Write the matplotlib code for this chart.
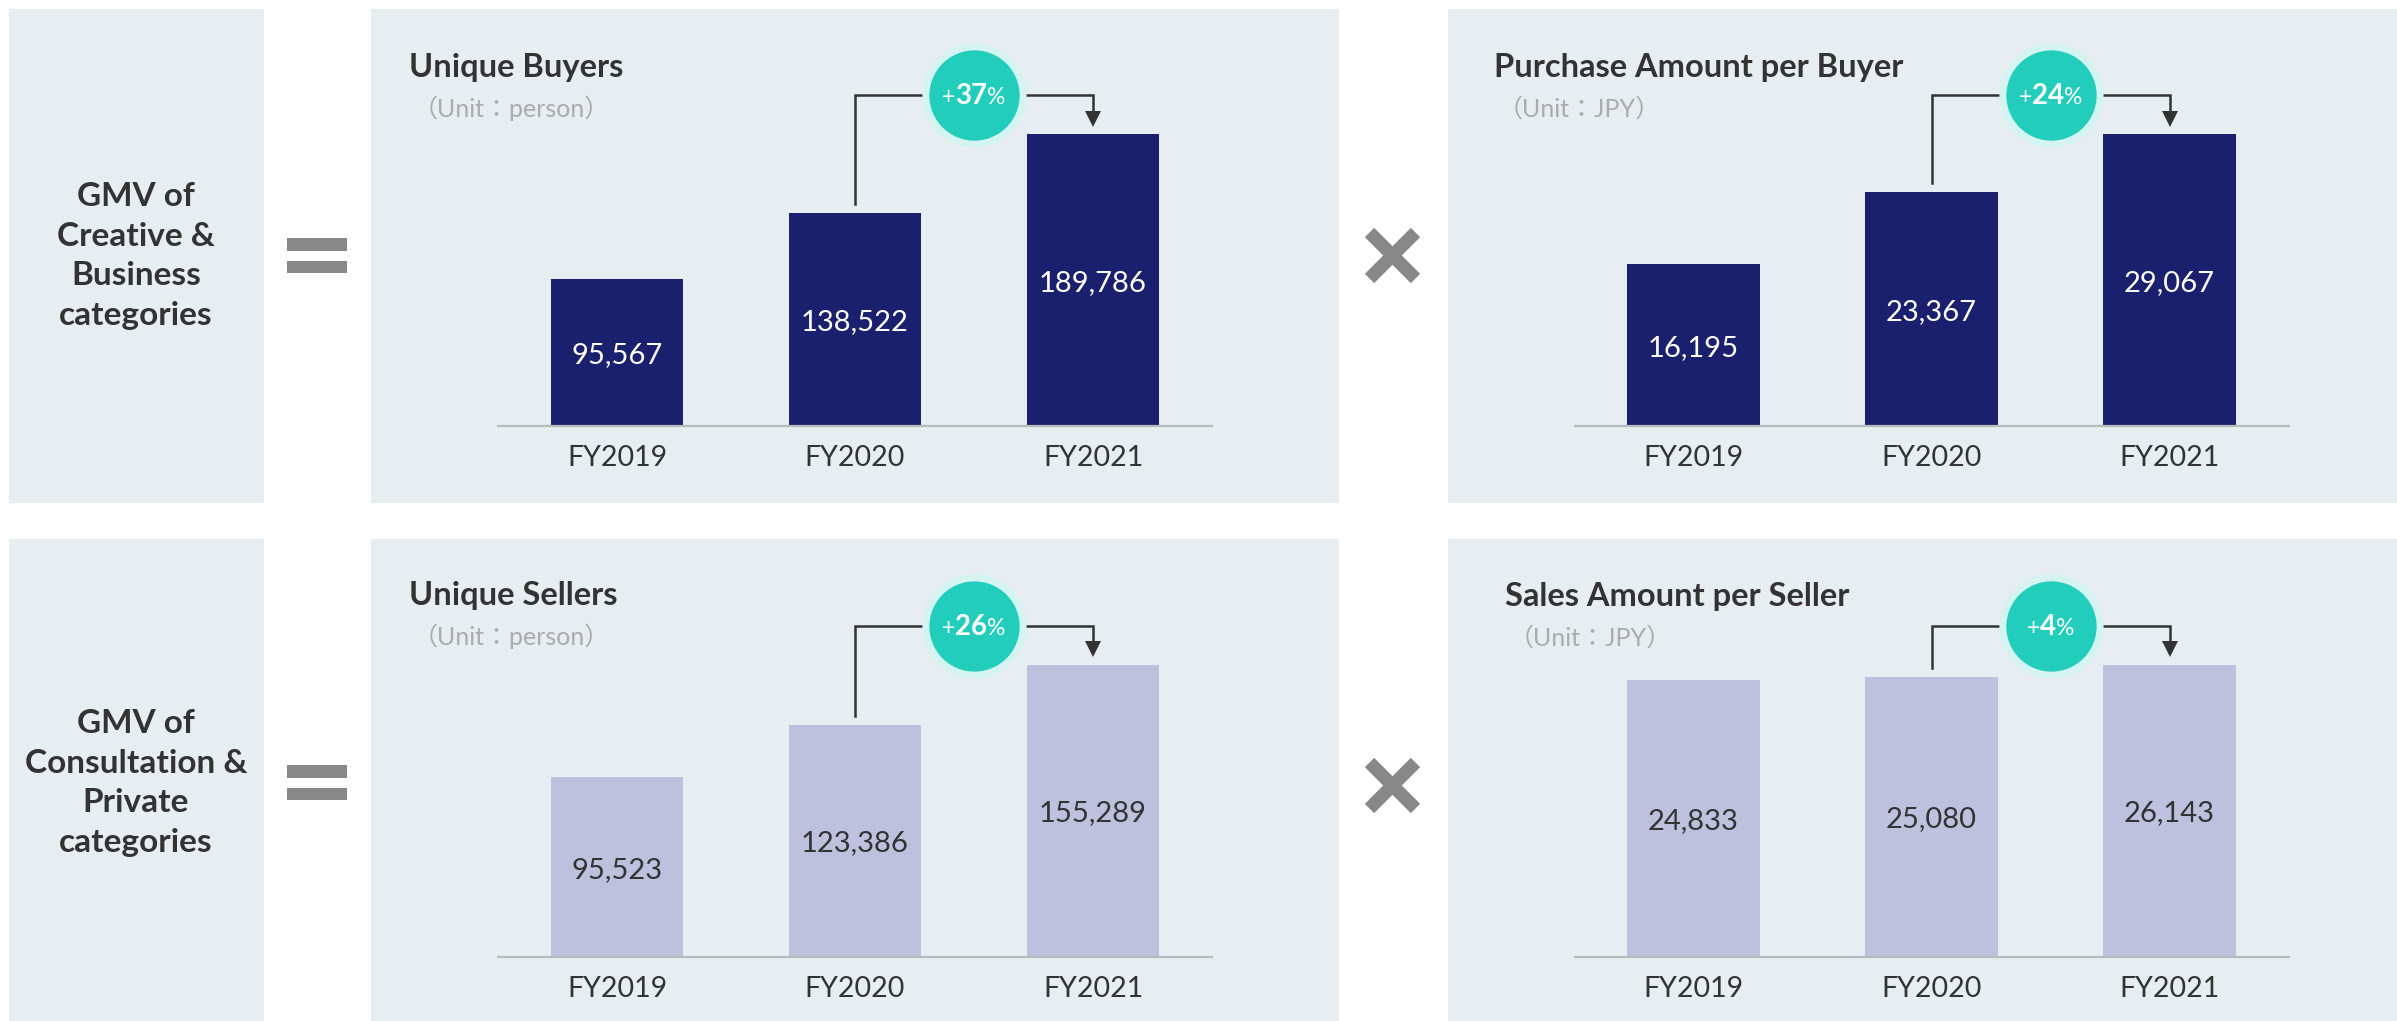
import matplotlib
matplotlib.use('Agg')
import matplotlib.pyplot as plt
import matplotlib.transforms as mtransforms
from matplotlib.patches import Rectangle
from matplotlib.lines import Line2D

W, H = 2397, 1021
DPI = 100

# data
years = ['FY2019', 'FY2020', 'FY2021']
unique_buyers = [95567, 138522, 189786]
purchase_per_buyer = [16195, 23367, 29067]
unique_sellers = [95523, 123386, 155289]
sales_per_seller = [24833, 25080, 26143]

row_labels = ['GMV of\nCreative &\nBusiness\ncategories',
              'GMV of\nConsultation &\nPrivate\ncategories']

# colours
PANEL = '#E6EEF2'
NAVY = '#1B206E'
LAVENDER = '#BDC1DE'
TEAL = '#22CDBB'
RING = '#D3F4F0'
DARK = '#333333'
SIGN = '#888888'
UNIT = '#ABABAB'
AXIS = '#BBBBBB'

plt.rcParams['font.family'] = ['Lato', 'Noto Sans CJK JP', 'DejaVu Sans']

fig = plt.figure(figsize=(W / DPI, H / DPI), dpi=DPI, facecolor='white')

# background layer in pixel units (y down)
bg = fig.add_axes([0, 0, 1, 1])
bg.set_xlim(0, W)
bg.set_ylim(H, 0)
bg.axis('off')


def panel(x0, y0, x1, y1):
    bg.add_patch(Rectangle((x0, y0), x1 - x0, y1 - y0, color=PANEL, lw=0))


for y0, y1 in [(9, 503), (539, H)]:
    panel(9, y0, 264, y1)
    panel(371, y0, 1339, y1)
    panel(1448, y0, W, y1)

# row labels and "=" signs
for label, ty, eq_y in zip(row_labels, [256, 783], [238, 765]):
    bg.text(136, ty, label, ha='center', va='center', fontsize=24,
            fontweight='bold', color=DARK, linespacing=1.45)
    bg.add_patch(Rectangle((287, eq_y), 60, 12.5, color=SIGN, lw=0))
    bg.add_patch(Rectangle((287, eq_y + 22.5), 60, 12.5, color=SIGN, lw=0))

# "x" signs
for cy in [255.5, 785.5]:
    for dx in [-23, 23]:
        bg.add_line(Line2D([1392.5 - dx, 1392.5 + dx], [cy - 23, cy + 23],
                           color=SIGN, lw=9.5, solid_capstyle='butt'))

renderer = fig.canvas.get_renderer()


def badge_label(ax, trans, x, y, pct):
    parts = [('+', 16.5, 'normal'), (str(pct), 20, 'bold'), ('%', 16.5, 'normal')]
    texts = [ax.text(x, y, s, fontsize=fs, fontweight=fw, color='white',
                     ha='left', va='baseline', transform=trans,
                     clip_on=False, zorder=6)
             for s, fs, fw in parts]
    widths = [t.get_window_extent(renderer).width for t in texts]
    x0 = -sum(widths) / 2
    for t, w in zip(texts, widths):
        t.set_transform(trans + mtransforms.ScaledTranslation(
            x0 / DPI, 0, fig.dpi_scale_trans))
        x0 += w


def chart(left, baseline, values, color, text_color, title, unit, title_x, title_y):
    ax = fig.add_axes([left / W, 1 - baseline / H, 714 / W, 292 / H])
    ax.set_facecolor('none')
    vmax = max(values)
    ax.bar(range(3), values, width=0.555, color=color, zorder=2)
    ax.set_xlim(-0.5, 2.5)
    ax.set_ylim(0, vmax)
    for side in ['top', 'left', 'right']:
        ax.spines[side].set_visible(False)
    ax.spines['bottom'].set_color(AXIS)
    ax.spines['bottom'].set_linewidth(1.6)
    ax.set_yticks([])
    ax.set_xticks(range(3), years)
    ax.tick_params(axis='x', length=0, pad=13.5, labelsize=20.5, labelcolor=DARK)

    # value labels centred on the bar, baseline shifted down by half a cap height
    label_fs = 21
    shift = mtransforms.ScaledTranslation(0, -0.36 * label_fs / 72, fig.dpi_scale_trans)
    for i, v in enumerate(values):
        ax.text(i, v / 2, f'{v:,}', ha='center', va='baseline', fontsize=label_fs,
                color=text_color, zorder=3, transform=ax.transData + shift)

    # growth bracket FY2020 -> FY2021
    blend = mtransforms.blended_transform_factory(ax.transData, ax.transAxes)
    top = 1.135
    ax.plot([1, 1, 2, 2], [values[1] / vmax + 0.031, top, top, 1.08],
            color=DARK, lw=1.8, transform=blend, clip_on=False,
            solid_joinstyle='miter', zorder=4)
    ax.plot([2], [1.0545], marker='v', ms=11.5, color=DARK, mew=0,
            transform=blend, clip_on=False, zorder=4)
    ax.plot([1.5], [top], 'o', ms=75, color=RING, mew=0,
            transform=blend, clip_on=False, zorder=5)
    ax.plot([1.5], [top], 'o', ms=65, color=TEAL, mew=0,
            transform=blend, clip_on=False, zorder=5)
    pct = round((values[2] / values[1] - 1) * 100)
    badge_label(ax, blend, 1.5, top - 9 / 292, pct)

    bg.text(title_x, title_y, title, fontsize=23.5, fontweight='bold',
            color=DARK, va='baseline', ha='left')
    bg.text(title_x + 4, title_y + 40, '（Unit：' + unit + '）', fontsize=18,
            color=UNIT, va='baseline', ha='left')
    return ax


chart(498, 426.5, unique_buyers, NAVY, 'white',
      'Unique Buyers', 'person', 409, 77)
chart(1574.5, 426.5, purchase_per_buyer, NAVY, 'white',
      'Purchase Amount per Buyer', 'JPY', 1494, 77)
chart(498, 957, unique_sellers, LAVENDER, DARK,
      'Unique Sellers', 'person', 409, 605)
chart(1574.5, 957, sales_per_seller, LAVENDER, DARK,
      'Sales Amount per Seller', 'JPY', 1505, 606)

fig.savefig('out.png', dpi=DPI, facecolor='white')
